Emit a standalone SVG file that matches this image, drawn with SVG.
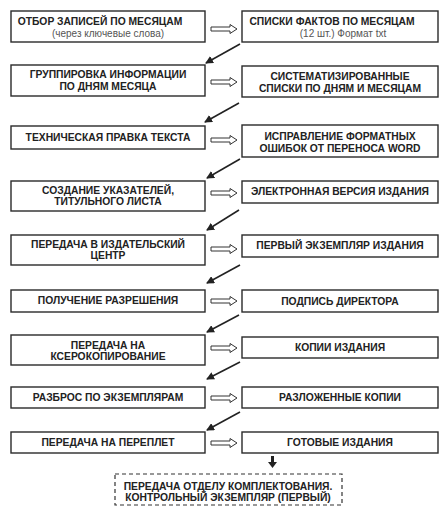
<svg xmlns="http://www.w3.org/2000/svg" xmlns:xlink="http://www.w3.org/1999/xlink" width="439" height="506" viewBox="0 0 439 506">
<defs>
<style>
.box{fill:#fff;stroke:#2a2a2a;stroke-width:1.4}
.dbox{fill:#fff;stroke:#333;stroke-width:1.2;stroke-dasharray:4,3}
.t{font-family:"Liberation Sans",Arial,sans-serif;font-weight:bold;font-size:10.3px;fill:#222;text-anchor:middle}
.s{font-family:"Liberation Sans",Arial,sans-serif;font-size:10px;fill:#555;text-anchor:middle}
.ha{fill:#fff;stroke:#333;stroke-width:1}
.diag{stroke:#222;stroke-width:1.6;fill:none;marker-end:url(#ah)}
</style>
<marker id="ah" markerWidth="8" markerHeight="8" refX="7" refY="4" orient="auto" markerUnits="userSpaceOnUse">
<path d="M0,0 L8,4 L0,8 z" fill="#222"/>
</marker>
<path id="dbl" class="ha" d="M0,-2 L19,-2 L19,-4.5 L26,0 L19,4.5 L19,2 L0,2 z"/>
</defs>
<rect width="439" height="506" fill="#fff"/>

<g id="connectors">
<use xlink:href="#dbl" x="211" y="29"/>
<use xlink:href="#dbl" x="211" y="82"/>
<use xlink:href="#dbl" x="211" y="140"/>
<use xlink:href="#dbl" x="211" y="193"/>
<use xlink:href="#dbl" x="211" y="249"/>
<use xlink:href="#dbl" x="211" y="301"/>
<use xlink:href="#dbl" x="211" y="348"/>
<use xlink:href="#dbl" x="211" y="398"/>
<use xlink:href="#dbl" x="211" y="443"/>
<line class="diag" x1="240" y1="44" x2="206" y2="63"/>
<line class="diag" x1="239" y1="103" x2="205" y2="122"/>
<line class="diag" x1="240" y1="159" x2="207" y2="178"/>
<line class="diag" x1="239" y1="210" x2="207" y2="230"/>
<line class="diag" x1="240" y1="265" x2="207" y2="283"/>
<line class="diag" x1="239" y1="315" x2="207" y2="332"/>
<line class="diag" x1="240" y1="362" x2="207" y2="379"/>
<line class="diag" x1="240" y1="412" x2="207" y2="430"/>
<path d="M272.5,456 L272.5,463" stroke="#222" stroke-width="3"/>
<path d="M268,462 L277,462 L272.5,468 z" fill="#222"/>
</g>

<g id="n1"><rect class="box" x="11" y="11" width="194" height="31"/>
<text class="t" x="100" y="25">ОТБОР ЗАПИСЕЙ ПО МЕСЯЦАМ</text>
<text class="s" x="108" y="37">(через ключевые слова)</text></g>
<g id="r1"><rect class="box" x="242" y="11" width="196" height="31"/>
<text class="t" x="332" y="25">СПИСКИ ФАКТОВ ПО МЕСЯЦАМ</text>
<text class="s" x="343" y="37">(12 шт.) Формат txt</text></g>

<g id="n2"><rect class="box" x="11" y="65" width="194" height="31"/>
<text class="t" x="108" y="78">ГРУППИРОВКА ИНФОРМАЦИИ</text>
<text class="t" x="108" y="90">ПО ДНЯМ МЕСЯЦА</text></g>
<g id="r2"><rect class="box" x="242" y="66" width="196" height="31"/>
<text class="t" x="340" y="80">СИСТЕМАТИЗИРОВАННЫЕ</text>
<text class="t" x="340" y="92">СПИСКИ ПО ДНЯМ И МЕСЯЦАМ</text></g>

<g id="n3"><rect class="box" x="11" y="126" width="194" height="23"/>
<text class="t" x="108" y="141">ТЕХНИЧЕСКАЯ ПРАВКА ТЕКСТА</text></g>
<g id="r3"><rect class="box" x="242" y="125" width="196" height="32"/>
<text class="t" x="340" y="140">ИСПРАВЛЕНИЕ ФОРМАТНЫХ</text>
<text class="t" x="340" y="152">ОШИБОК ОТ ПЕРЕНОСА WORD</text></g>

<g id="n4"><rect class="box" x="11" y="181" width="194" height="30"/>
<text class="t" x="108" y="194">СОЗДАНИЕ УКАЗАТЕЛЕЙ,</text>
<text class="t" x="108" y="205">ТИТУЛЬНОГО ЛИСТА</text></g>
<g id="r4"><rect class="box" x="242" y="181" width="196" height="22"/>
<text class="t" x="340" y="195">ЭЛЕКТРОННАЯ ВЕРСИЯ ИЗДАНИЯ</text></g>

<g id="n5"><rect class="box" x="11" y="235" width="194" height="30"/>
<text class="t" x="108" y="248">ПЕРЕДАЧА В ИЗДАТЕЛЬСКИЙ</text>
<text class="t" x="108" y="259">ЦЕНТР</text></g>
<g id="r5"><rect class="box" x="242" y="235" width="196" height="22"/>
<text class="t" x="340" y="249">ПЕРВЫЙ ЭКЗЕМПЛЯР ИЗДАНИЯ</text></g>

<g id="n6"><rect class="box" x="11" y="290" width="194" height="22"/>
<text class="t" x="108" y="304">ПОЛУЧЕНИЕ РАЗРЕШЕНИЯ</text></g>
<g id="r6"><rect class="box" x="242" y="290" width="196" height="22"/>
<text class="t" x="340" y="305">ПОДПИСЬ ДИРЕКТОРА</text></g>

<g id="n7"><rect class="box" x="11" y="335" width="194" height="30"/>
<text class="t" x="108" y="349">ПЕРЕДАЧА НА</text>
<text class="t" x="108" y="360">КСЕРОКОПИРОВАНИЕ</text></g>
<g id="r7"><rect class="box" x="242" y="337" width="196" height="21"/>
<text class="t" x="340" y="351">КОПИИ ИЗДАНИЯ</text></g>

<g id="n8"><rect class="box" x="11" y="387" width="194" height="21"/>
<text class="t" x="108" y="401">РАЗБРОС ПО ЭКЗЕМПЛЯРАМ</text></g>
<g id="r8"><rect class="box" x="242" y="387" width="196" height="21"/>
<text class="t" x="340" y="401">РАЗЛОЖЕННЫЕ КОПИИ</text></g>

<g id="n9"><rect class="box" x="11" y="432" width="194" height="21"/>
<text class="t" x="108" y="446">ПЕРЕДАЧА НА ПЕРЕПЛЕТ</text></g>
<g id="r9"><rect class="box" x="242" y="432" width="196" height="21"/>
<text class="t" x="340" y="446">ГОТОВЫЕ ИЗДАНИЯ</text></g>

<g id="final"><rect class="dbox" x="115" y="474" width="227" height="31"/>
<text class="t" x="228" y="490">ПЕРЕДАЧА ОТДЕЛУ КОМПЛЕКТОВАНИЯ.</text>
<text class="t" x="228" y="501">КОНТРОЛЬНЫЙ ЭКЗЕМПЛЯР (ПЕРВЫЙ)</text></g>
</svg>
